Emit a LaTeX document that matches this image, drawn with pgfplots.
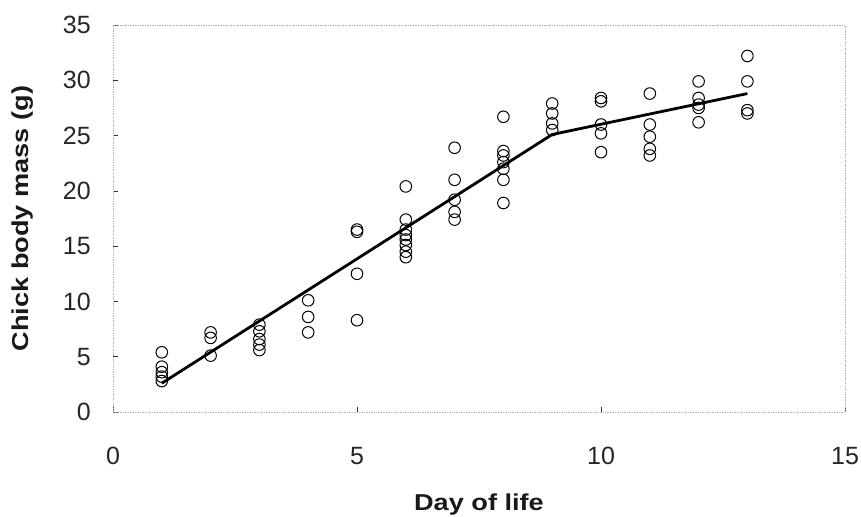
\documentclass[border=0pt]{standalone}
\usepackage{pgfplots}
\pgfplotsset{compat=1.18}
\usepackage{fontspec}
\setmainfont{Liberation Sans}
\newfontfamily\labfont[FakeStretch=1.18]{Liberation Sans}
\begin{document}
\begin{tikzpicture}
\useasboundingbox (-113bp,-105bp) rectangle (748bp,412bp);
\begin{axis}[
  at={(0,0)}, anchor=south west,
  scale only axis,
  width=732bp, height=387bp,
  xmin=0, xmax=15, ymin=0, ymax=35,
  xtick={0,5,10,15}, ytick={0,5,...,35},
  axis line style={gray!60, line width=0.7bp, densely dotted},
  tick style={black!80, line width=0.6bp},
  major tick length=5bp,
  tick align=inside,
  xtick pos=bottom, ytick pos=left,
  /pgf/number format/assume math mode=true,
  tick label style={font=\fontsize{25bp}{28bp}\selectfont, text=black!85},
  xticklabel style={anchor=base, yshift=-52bp},
  yticklabel style={anchor=east, inner xsep=0pt, xshift=-22bp},
  xlabel={\textbf{Day of life}},
  ylabel={\textbf{Chick body mass (g)}},
  label style={font=\labfont\fontsize{23bp}{26bp}\selectfont, text=black!90},
  xlabel style={at={(axis description cs:0.5,-0.2558)}, anchor=base},
  ylabel style={at={(axis description cs:-0.116,0.5)}, anchor=base},
  clip=false,
]
\addplot[only marks, mark=o, mark size=5.8bp, mark options={line width=1bp, black, fill=white}] coordinates {
 (1,5.4) (1,4.1) (1,3.6) (1,3.2) (1,2.8)
 (2,7.2) (2,6.7) (2,5.1)
 (3,7.9) (3,7.3) (3,6.6) (3,6.1) (3,5.6)
 (4,10.1) (4,8.6) (4,7.2)
 (5,16.5) (5,16.3) (5,12.5) (5,8.3)
 (6,20.4) (6,17.4) (6,16.5) (6,16.0) (6,15.6) (6,15.1) (6,14.5) (6,14.0)
 (7,23.9) (7,21.0) (7,19.2) (7,18.1) (7,17.4)
 (8,26.7) (8,23.6) (8,23.2) (8,22.6) (8,22.0) (8,21.0) (8,18.9)
 (9,27.9) (9,27.0) (9,26.1) (9,25.5)
 (10,28.4) (10,28.1) (10,26.0) (10,25.2) (10,23.5)
 (11,28.8) (11,26.0) (11,24.9) (11,23.8) (11,23.2)
 (12,29.9) (12,28.4) (12,27.8) (12,27.5) (12,26.2)
 (13,32.2) (13,29.9) (13,27.3) (13,27.0)
};
\addplot[black, line width=2.8bp] coordinates {(1,2.6) (9,25.1) (13,28.8)};
\end{axis}
\end{tikzpicture}
\end{document}
